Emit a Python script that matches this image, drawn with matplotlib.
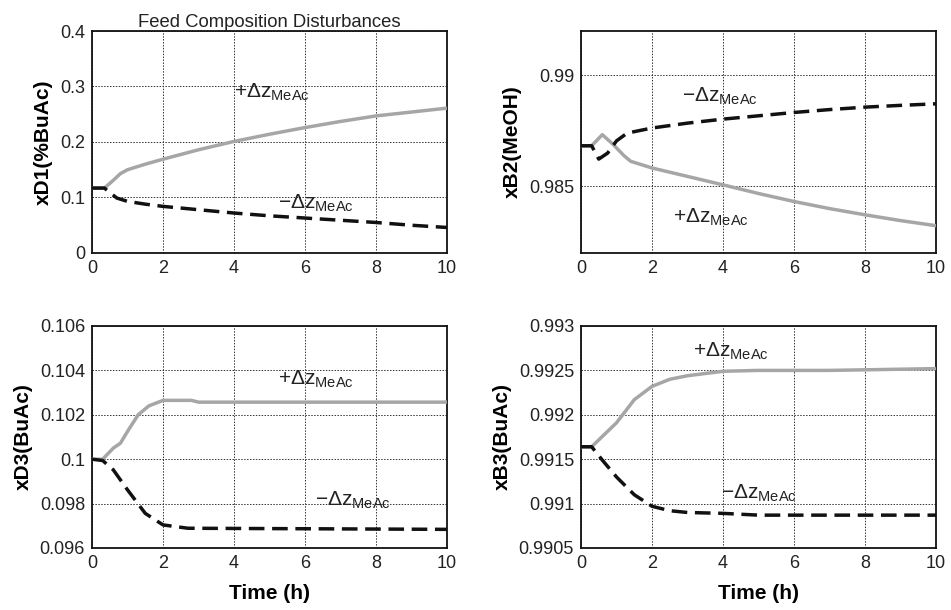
import matplotlib
matplotlib.use("Agg")
import matplotlib.pyplot as plt

plt.rcParams["font.family"] = ["Liberation Sans", "DejaVu Sans"]
plt.rcParams["mathtext.fontset"] = "custom"
plt.rcParams["mathtext.rm"] = "Liberation Sans"
plt.rcParams["mathtext.it"] = "Liberation Sans"
plt.rcParams["mathtext.default"] = "regular"

# ---- xD1 (%BuAc) ----
t_d1_plus = [0, 0.35, 0.6, 0.8, 1.0, 1.5, 2, 3, 4, 5, 6, 7, 8, 9, 10]
xd1_plus = [0.117, 0.117, 0.131, 0.143, 0.150, 0.160, 0.169, 0.186, 0.201, 0.214, 0.226, 0.237, 0.247, 0.254, 0.261]
t_d1_minus = [0, 0.35, 0.5, 0.7, 1.0, 1.5, 2, 3, 4, 5, 6, 7, 8, 9, 10]
xd1_minus = [0.117, 0.117, 0.109, 0.099, 0.093, 0.088, 0.084, 0.078, 0.072, 0.067, 0.063, 0.059, 0.055, 0.050, 0.046]

# ---- xB2 (MeOH) ----
t_b2_plus = [0, 0.3, 0.6, 0.9, 1.2, 1.4, 2, 3, 4, 5, 6, 7, 8, 9, 10]
xb2_plus = [0.98683, 0.98683, 0.98733, 0.98690, 0.98640, 0.98613, 0.98583, 0.98545, 0.98507, 0.98468, 0.98432, 0.98400, 0.98372, 0.98346, 0.98323]
t_b2_minus = [0, 0.3, 0.5, 0.75, 1.0, 1.3, 2, 3, 4, 5, 6, 7, 8, 9, 10]
xb2_minus = [0.98683, 0.98683, 0.98623, 0.98650, 0.98705, 0.98740, 0.98763, 0.98785, 0.98803, 0.98818, 0.98833, 0.98846, 0.98857, 0.98865, 0.98872]

# ---- xD3 (BuAc) ----
t_d3_plus = [0, 0.3, 0.6, 0.8, 1.0, 1.3, 1.6, 2.0, 2.8, 3.0, 10]
xd3_plus = [0.1000, 0.1000, 0.1005, 0.10072, 0.10125, 0.1020, 0.1024, 0.10265, 0.10265, 0.10257, 0.10257]
t_d3_minus = [0, 0.3, 0.6, 1.0, 1.5, 2.0, 2.7, 10]
xd3_minus = [0.1000, 0.09994, 0.09952, 0.09862, 0.09756, 0.09704, 0.09689, 0.09684]

# ---- xB3 (BuAc) ----
t_b3_plus = [0, 0.3, 1.0, 1.5, 2.0, 2.5, 3.0, 4.0, 5.0, 7.0, 10]
xb3_plus = [0.99164, 0.99164, 0.99191, 0.99217, 0.99232, 0.99240, 0.99244, 0.99249, 0.99250, 0.99250, 0.99252]
t_b3_minus = [0, 0.3, 0.6, 1.0, 1.5, 2.0, 2.5, 3.0, 4.0, 5.0, 10]
xb3_minus = [0.99164, 0.99164, 0.99149, 0.99130, 0.99110, 0.99097, 0.99092, 0.99090, 0.99089, 0.99087, 0.99087]

x_ticks = [0, 2, 4, 6, 8, 10]
plus_label = r"$+\Delta z_{MeAc}$"
minus_label = r"$-\Delta z_{MeAc}$"

panels = [
    dict(tp=t_d1_plus, yp=xd1_plus, tm=t_d1_minus, ym=xd1_minus,
         ylim=(0, 0.4), yticks=[0, 0.1, 0.2, 0.3, 0.4],
         yticklabels=["0", "0.1", "0.2", "0.3", "0.4"],
         ylabel="xD1(%BuAc)", plus_pos=(4.0, 0.29), minus_pos=(5.25, 0.09)),
    dict(tp=t_b2_plus, yp=xb2_plus, tm=t_b2_minus, ym=xb2_minus,
         ylim=(0.982, 0.992), yticks=[0.985, 0.99],
         yticklabels=["0.985", "0.99"],
         ylabel="xB2(MeOH)", plus_pos=(2.6, 0.9836), minus_pos=(2.85, 0.98905)),
    dict(tp=t_d3_plus, yp=xd3_plus, tm=t_d3_minus, ym=xd3_minus,
         ylim=(0.096, 0.106), yticks=[0.096, 0.098, 0.1, 0.102, 0.104, 0.106],
         yticklabels=["0.096", "0.098", "0.1", "0.102", "0.104", "0.106"],
         ylabel="xD3(BuAc)", plus_pos=(5.25, 0.1036), minus_pos=(6.27, 0.09816)),
    dict(tp=t_b3_plus, yp=xb3_plus, tm=t_b3_minus, ym=xb3_minus,
         ylim=(0.9905, 0.993), yticks=[0.9905, 0.991, 0.9915, 0.992, 0.9925, 0.993],
         yticklabels=["0.9905", "0.991", "0.9915", "0.992", "0.9925", "0.993"],
         ylabel="xB3(BuAc)", plus_pos=(3.15, 0.99272), minus_pos=(3.95, 0.99112)),
]

fig = plt.figure(figsize=(9.51, 6.10), dpi=100)
W, H = 951, 610
boxes = [(92, 31, 447, 253), (581, 31, 936, 253), (92, 326, 447, 548), (581, 326, 936, 548)]

for i, (p, (x0, y0, x1, y1)) in enumerate(zip(panels, boxes)):
    ax = fig.add_axes([x0 / W, 1 - y1 / H, (x1 - x0) / W, (y1 - y0) / H])
    ax.plot(p["tp"], p["yp"], color="#a6a6a6", lw=2.5, solid_capstyle="butt", zorder=3)
    ax.plot(p["tm"], p["ym"], color="#111111", lw=2.5, dashes=(4.5, 2.2), zorder=4)
    ax.set_xlim(0, 10)
    ax.set_ylim(*p["ylim"])
    ax.set_xticks(x_ticks)
    ax.set_xticklabels([str(v) for v in x_ticks])
    ax.set_yticks(p["yticks"])
    ax.set_yticklabels(p["yticklabels"])
    ax.tick_params(length=0, labelsize=13, pad=5, colors="#222222")
    ax.grid(True, color="#333333", lw=0.7, linestyle=(0, (1.5, 1.5)))
    ax.set_axisbelow(True)
    for s in ax.spines.values():
        s.set_linewidth(1.3)
        s.set_color("#111111")
    ax.set_ylabel(p["ylabel"], fontsize=15, fontweight="bold", labelpad=5)
    if i >= 2:
        ax.set_xlabel("Time (h)", fontsize=15, fontweight="bold", labelpad=9)
    ax.text(*p["plus_pos"], plus_label, fontsize=15, color="#222222", va="center", ha="left")
    ax.text(*p["minus_pos"], minus_label, fontsize=15, color="#222222", va="center", ha="left")
    if i == 0:
        ax.set_title("Feed Composition Disturbances", fontsize=13.3, pad=2, color="#222222")

fig.savefig("out.png", dpi=100)
